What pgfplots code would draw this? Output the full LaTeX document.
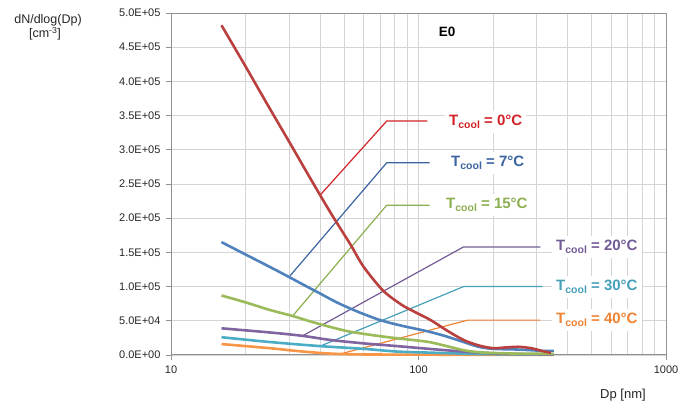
\documentclass[border=0pt]{standalone}
\usepackage{pgfplots}
\pgfplotsset{compat=1.18}
\usepackage{fontspec}
\setmainfont{Liberation Sans}
\definecolor{cRed}{RGB}{185,64,62}
\definecolor{tRed}{RGB}{210,35,40}
\definecolor{cBlue}{RGB}{79,129,189}
\definecolor{tBlue}{RGB}{60,100,160}
\definecolor{cGreen}{RGB}{155,187,89}
\definecolor{tGreen}{RGB}{140,175,80}
\definecolor{cPurple}{RGB}{128,100,162}
\definecolor{tPurple}{RGB}{115,92,150}
\definecolor{cTeal}{RGB}{75,172,198}
\definecolor{tTeal}{RGB}{70,160,185}
\definecolor{cOrange}{RGB}{247,150,70}
\definecolor{tOrange}{RGB}{240,130,50}
\definecolor{gridc}{RGB}{212,212,212}
\definecolor{axc}{RGB}{145,145,145}
\newcommand{\tc}[1]{{\fontsize{15}{18}\selectfont\bfseries T\raisebox{-3pt}{\fontsize{10.5}{12}\selectfont cool} = #1}}
\begin{document}
\begin{tikzpicture}
\useasboundingbox (0,0) rectangle (678pt,407pt);
\begin{axis}[
  at={(171pt,52pt)}, anchor=south west,
  scale only axis, width=495pt, height=342pt,
  xmode=log, xmin=10, xmax=1000,
  ymin=0, ymax=500000,
  xtick={10,100,1000}, xticklabels={10,100,1000},
  minor xtick={20,30,40,50,60,70,80,90,200,300,400,500,600,700,800,900},
  ytick={0,50000,100000,150000,200000,250000,300000,350000,400000,450000,500000},
  yticklabels={0.0E+00,5.0E+04,1.0E+05,1.5E+05,2.0E+05,2.5E+05,3.0E+05,3.5E+05,4.0E+05,4.5E+05,5.0E+05},
  scaled y ticks=false,
  grid=both,
  major grid style={draw=gridc, line width=0.8pt},
  minor grid style={draw=gridc, line width=0.8pt},
  axis line style={draw=axc, line width=1pt},
  tick style={draw=axc, line width=0.8pt},
  tick align=outside, major tick length=5pt, minor tick length=0pt,
  xtick pos=bottom, ytick pos=left,
  ticklabel style={font=\fontsize{11}{13}\selectfont, text=black!85},
  yticklabel style={xshift=-2pt},
  xticklabel style={yshift=-2pt},
  clip=false,
]
% annotation leader lines
\addplot[tRed, line width=1.2pt] coordinates {(40.1,234000) (74.4,342000) (108.6,342000)};
\addplot[tBlue, line width=1.2pt] coordinates {(30.3,116000) (74.4,281000) (111,281000)};
\addplot[tGreen, line width=1.2pt] coordinates {(31,57000) (74.4,219000) (111,219000)};
\addplot[tPurple, line width=1.2pt] coordinates {(34,28000) (152,158000) (311,158000)};
\addplot[tTeal, line width=1.2pt] coordinates {(40.1,13000) (152,100000) (317,100000)};
\addplot[tOrange, line width=1.2pt] coordinates {(48.3,1500) (158,51000) (311,51000)};
% size distributions
\addplot[cOrange, line width=2.6pt, smooth, tension=0.5] coordinates {(16,16000) (25,10000) (32,6000) (40,3000) (48,1500) (60,800) (100,500) (200,300) (352,300)};
\addplot[cTeal, line width=2.6pt, smooth, tension=0.5] coordinates {(16,26000) (25,19000) (40,13000) (60,9000) (82,5000) (110,3500) (152,2000) (200,1200) (352,800)};
\addplot[cPurple, line width=2.6pt, smooth, tension=0.5] coordinates {(16,39000) (25,33000) (34,28000) (44,22000) (60,17000) (82,13000) (110,9000) (152,5000) (200,2500) (250,1500) (352,1000)};
\addplot[cGreen, line width=2.6pt, smooth, tension=0.5] coordinates {(16,87000) (20,77000) (25,66000) (31,57000) (37,48500) (44,41000) (53,34000) (70,27500) (84,24000) (100,21000) (112,18500) (130,13000) (152,7000) (175,4000) (200,3000) (250,2000) (300,2000) (352,1500)};
\addplot[cBlue, line width=2.6pt, smooth, tension=0.5] coordinates {(16,165000) (20,147000) (25,129000) (30,114000) (35,101000) (40,90000) (45,80000) (50,72000) (58,62000) (70,51000) (85,43000) (100,37500) (112,33500) (130,27000) (152,19000) (175,12000) (200,9000) (250,8000) (285,7000) (320,6000) (352,6000)};
\addplot[cRed, line width=2.6pt, smooth, tension=0.5] coordinates {(16,482000) (20,422000) (25,361000) (30,312000) (35,270000) (40,234000) (45,203000) (53,162000) (60,129000) (72,94000) (85,74000) (93,66000) (112,51000) (130,36000) (152,22000) (175,14000) (200,10000) (225,11000) (252,12000) (285,10000) (315,6000) (343,3000)};
% labels
\node[fill=white, inner sep=4pt, anchor=west, text=tRed, xshift=-4pt] at (rel axis cs:0.5616,0.681) {\tc{0°C}};
\node[fill=white, inner sep=4pt, anchor=west, text=tBlue, xshift=-4pt] at (rel axis cs:0.5657,0.561) {\tc{7°C}};
\node[fill=white, inner sep=4pt, anchor=west, text=tGreen, xshift=-4pt] at (rel axis cs:0.5556,0.4386) {\tc{15°C}};
\node[fill=white, inner sep=4pt, anchor=west, text=tPurple, xshift=-4pt] at (rel axis cs:0.7778,0.3158) {\tc{20°C}};
\node[fill=white, inner sep=4pt, anchor=west, text=tTeal, xshift=-4pt] at (rel axis cs:0.7778,0.1988) {\tc{30°C}};
\node[fill=white, inner sep=4pt, anchor=west, text=tOrange, xshift=-4pt] at (rel axis cs:0.7778,0.1023) {\tc{40°C}};
\node[font=\fontsize{13.5}{16}\selectfont\bfseries] at (rel axis cs:0.5576,0.9444) {E0};
\end{axis}
\node[font=\fontsize{12.5}{14}\selectfont, text=black!85] at (48pt,387pt) {dN/dlog(Dp)};
\node[font=\fontsize{12.5}{14}\selectfont, text=black!85] at (45pt,373pt) {[cm\textsuperscript{-3}]};
\node[font=\fontsize{13}{15}\selectfont, text=black!85] at (623pt,12pt) {Dp [nm]};
\end{tikzpicture}
\end{document}
